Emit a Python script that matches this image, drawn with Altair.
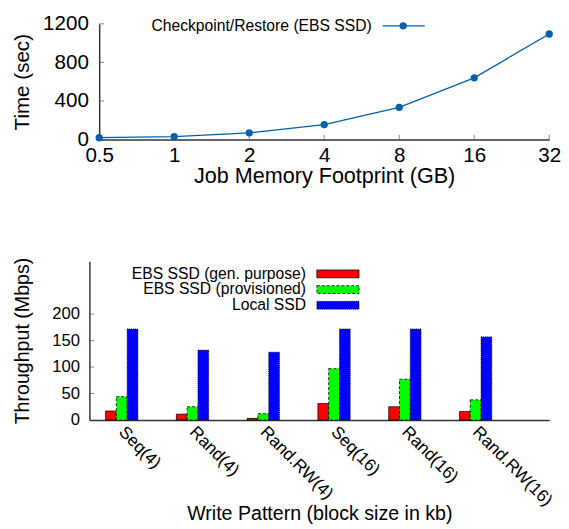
import altair as alt
import pandas as pd

# ---- data: top panel ----
mem = [0.5, 1, 2, 4, 8, 16, 32]
ckpt_time = [20, 30, 70, 155, 335, 640, 1095]
line_label = "Checkpoint/Restore (EBS SSD)"
time_ticks = [0, 400, 800, 1200]

# ---- data: bottom panel ----
patterns = ["Seq(4)", "Rand(4)", "Rand.RW(4)", "Seq(16)", "Rand(16)", "Rand.RW(16)"]
series = ["EBS SSD (gen. purpose)", "EBS SSD (provisioned)", "Local SSD"]
gen_purpose = [17, 11, 3, 31, 25, 16]
provisioned = [44, 25, 12, 97, 77, 38]
local_ssd = [172, 132, 128, 172, 172, 157]
tput_ticks = [0, 50, 100, 150, 200]

FONT = "Liberation Sans"
LINE = "#0060ad"
AXC = "#333333"
TICKC = "#555555"
colors = ["#ff0000", "#00ff00", "#0000ff"]
dashes = [[1, 0], [3, 2], [1, 1]]

# ---------------- top chart ----------------
W1, H1 = 469, 118
SHIFT = 10  # top plot's axis sits 10px right of the bottom plot's axis

df1 = pd.DataFrame({"mem": mem, "time": ckpt_time})

xs1 = alt.Scale(type="log", base=2, domain=[0.5, 32], nice=False, range=[SHIFT, W1])
ys1 = alt.Scale(domain=[0, 1200], nice=False)

x1 = alt.X(
    "mem:Q", scale=xs1,
    axis=alt.Axis(values=mem, format="~g", title="Job Memory Footprint (GB)",
                  labelFontSize=21, titleFontSize=22, labelPadding=5,
                  ticks=False, tickSize=0, labelFlush=False, grid=False,
                  titlePadding=1),
)
y1 = alt.Y(
    "time:Q", scale=ys1,
    axis=alt.Axis(values=time_ticks, format="d", title="Time (sec)",
                  labelFontSize=21, titleFontSize=21, labelPadding=11,
                  ticks=False, tickSize=0, minExtent=58, maxExtent=58,
                  titlePadding=10, grid=False, offset=-SHIFT),
)

line = alt.Chart(df1).mark_line(
    color=LINE, strokeWidth=1.3,
    point=alt.OverlayMarkDef(filled=True, size=55, color=LINE, opacity=1),
).encode(x=x1, y=y1)

# inward ticks
xt_df = pd.DataFrame({"mem": mem})
xticks1 = alt.Chart(xt_df).mark_tick(color=TICKC, thickness=1, size=5, orient="vertical").encode(
    x=x1, y=alt.value(H1 - 2.5))
yt_df = pd.DataFrame({"time": time_ticks[1:]})
yticks1 = alt.Chart(yt_df).mark_tick(color=TICKC, thickness=1, size=5, orient="horizontal").encode(
    y=y1, x=alt.value(SHIFT + 2.5))

leg1_df = pd.DataFrame({"label": [line_label]})
LY = 2
leg1_text = alt.Chart(leg1_df).mark_text(
    align="right", baseline="middle", fontSize=16, font=FONT, color="black"
).encode(x=alt.value(288), y=alt.value(LY), text="label:N")
leg1_rule = alt.Chart(leg1_df).mark_rule(color=LINE, strokeWidth=1.3).encode(
    x=alt.value(299), x2=alt.value(342), y=alt.value(LY))
leg1_pt = alt.Chart(leg1_df).mark_point(filled=True, size=55, color=LINE, opacity=1).encode(
    x=alt.value(320), y=alt.value(LY))

top = alt.layer(line, xticks1, yticks1, leg1_rule, leg1_pt, leg1_text).properties(
    width=W1, height=H1)

# ---------------- bottom chart ----------------
rows = []
for s, vals in zip(series, [gen_purpose, provisioned, local_ssd]):
    for p, v in zip(patterns, vals):
        rows.append({"pattern": p, "series": s, "value": v})
df2 = pd.DataFrame(rows)

ys2 = alt.Scale(domain=[0, 300], nice=False)
y2 = alt.Y("value:Q", scale=ys2,
           axis=alt.Axis(values=tput_ticks, title="Throughput (Mbps)",
                         labelFontSize=17, titleFontSize=20, labelPadding=10,
                         ticks=False, tickSize=0, minExtent=39, maxExtent=39,
                         titlePadding=19, grid=False))

bars = alt.Chart(df2).mark_bar(stroke="black", strokeWidth=0.8).encode(
    x=alt.X("pattern:N", sort=patterns,
            scale=alt.Scale(paddingInner=0.543, paddingOuter=0.52, align=0.22),
            axis=alt.Axis(title="Write Pattern (block size in kb)", labelAngle=45,
                          labelAlign="left", labelBaseline="top", labelFontSize=17.5,
                          titleFontSize=20, labelPadding=3, labelOffset=6,
                          ticks=False, tickSize=0,
                          titlePadding=4, minExtent=82, maxExtent=82)),
    xOffset=alt.XOffset("series:N", sort=series,
                        scale=alt.Scale(paddingInner=0, paddingOuter=0)),
    y=y2,
    color=alt.Color("series:N", sort=series,
                    scale=alt.Scale(domain=series, range=colors), legend=None),
    strokeDash=alt.StrokeDash("series:N", sort=series,
                              scale=alt.Scale(domain=series, range=dashes), legend=None),
)

yt2_df = pd.DataFrame({"value": tput_ticks[1:]})
yticks2 = alt.Chart(yt2_df).mark_tick(color=TICKC, thickness=1, size=5, orient="horizontal").encode(
    y=y2, x=alt.value(2.5))

legend_layers = []
for i, name in enumerate(series):
    ry = 13 + 16 * i
    d = pd.DataFrame({"series": [name]})
    legend_layers.append(
        alt.Chart(d).mark_text(align="right", baseline="middle", fontSize=16,
                               font=FONT, color="black")
        .encode(x=alt.value(221), y=alt.value(ry), text="series:N"))
    legend_layers.append(
        alt.Chart(d).mark_rect(color=colors[i], stroke="black", strokeWidth=0.8,
                               strokeDash=dashes[i])
        .encode(x=alt.value(232), x2=alt.value(275),
                y=alt.value(ry - 4), y2=alt.value(ry + 4)))

bottom = alt.layer(bars, yticks2, *legend_layers).properties(width=469, height=162)

chart = (
    alt.vconcat(top, bottom, spacing=71)
    .properties(padding={"left": 4, "top": 0, "right": 0, "bottom": 0})
    .configure_view(stroke=None)
    .configure_axis(labelFont=FONT, titleFont=FONT, labelColor="black",
                    titleColor="black", titleFontWeight="normal",
                    domainColor=AXC, domainWidth=1.5)
)

chart.save("out.html", embed_options={"renderer": "svg", "actions": False})
